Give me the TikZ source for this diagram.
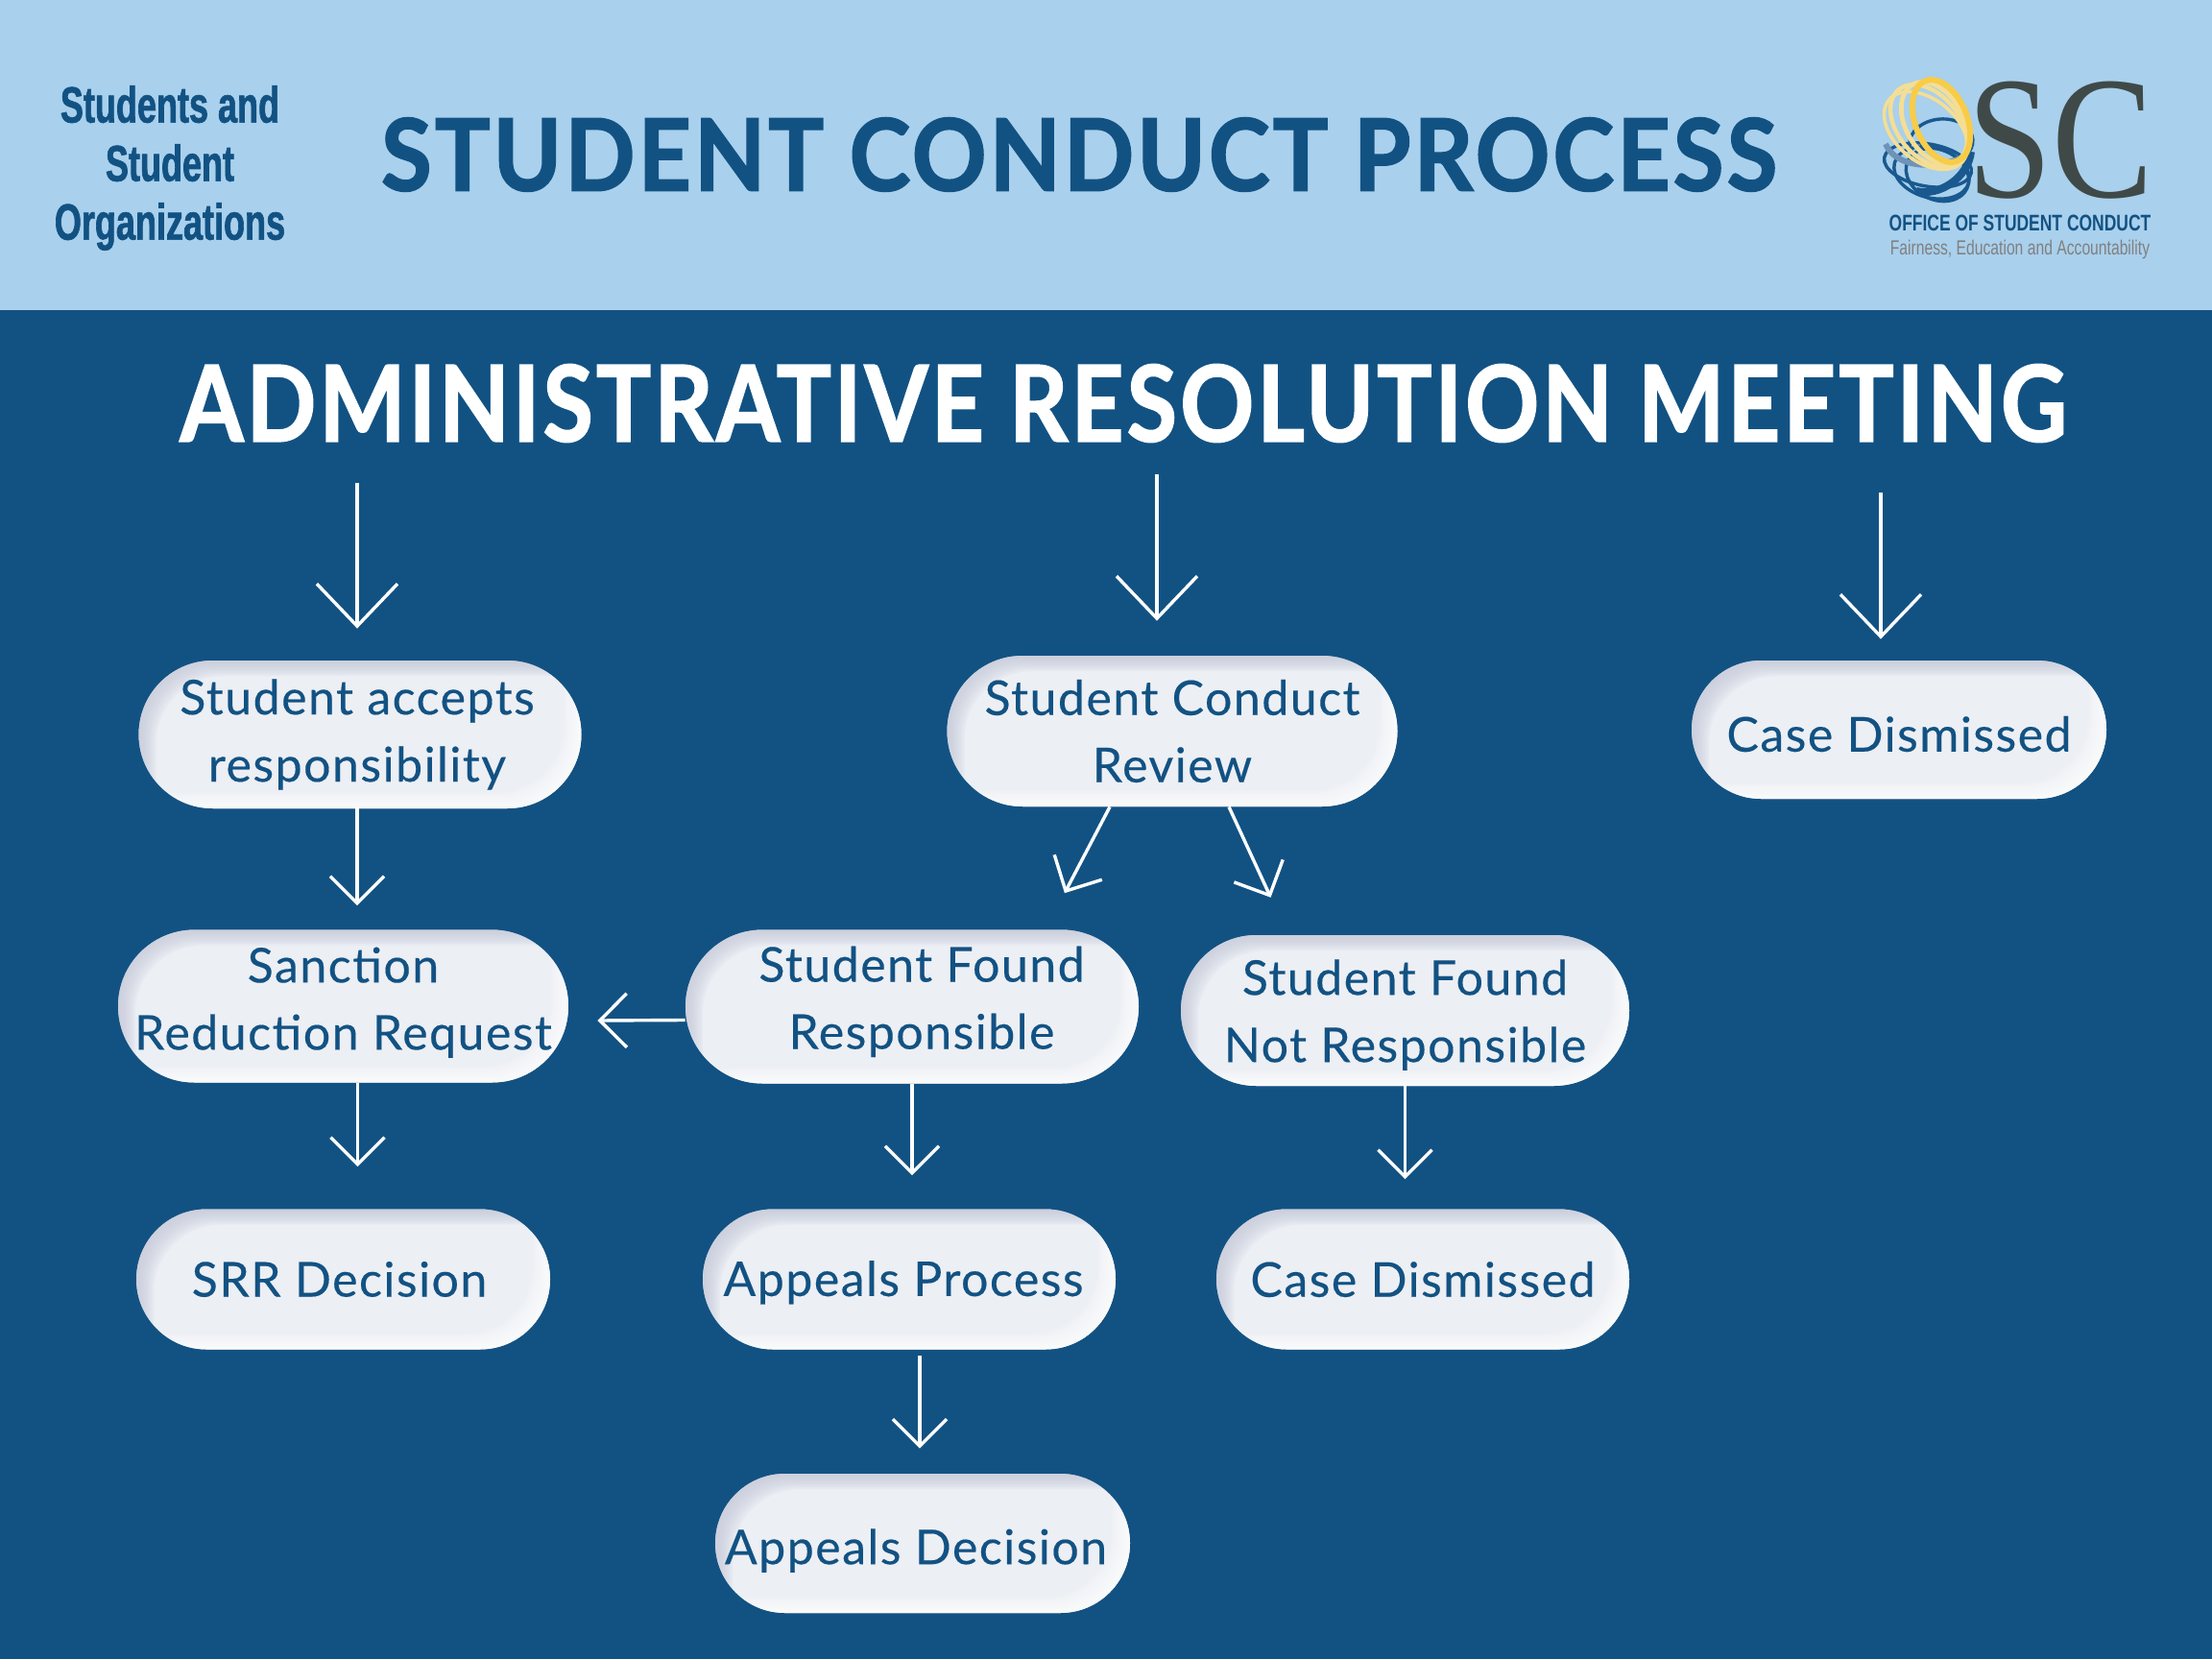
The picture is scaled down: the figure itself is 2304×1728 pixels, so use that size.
\documentclass[tikz,border=0pt]{standalone}
\usepackage{fontspec}
\usetikzlibrary{arrows.meta,positioning,shapes.misc}
\setmainfont[LetterSpace=3,FakeBold=0.3]{Lato}
\newfontfamily\headfont[LetterSpace=3,FakeStretch=0.925,FakeBold=1.6]{Lato}
\newfontfamily\titlefont[LetterSpace=3,FakeStretch=0.865,FakeBold=1.5]{Lato}
\newfontfamily\narrowfont[FakeStretch=0.68,FakeBold=1.2]{Liberation Sans}
\newfontfamily\logoserif[FakeStretch=0.87]{Liberation Serif}
\newfontfamily\logosans[FakeStretch=0.74]{Liberation Sans}
\definecolor{navy}{HTML}{125283}
\definecolor{sky}{HTML}{A9D0EC}
\definecolor{pillface}{HTML}{ECEFF4}
\definecolor{pilledge}{HTML}{C4C8D8}
\definecolor{pilllight}{HTML}{FFFFFF}
\definecolor{logogrey}{HTML}{3F4A48}
\definecolor{ringgold}{HTML}{F8CC46}
\definecolor{ringpale}{HTML}{F4DE94}
\definecolor{ringblue}{HTML}{19598F}
\definecolor{ringsteel}{HTML}{6F93B8}
\begin{document}
\begin{tikzpicture}[x=.5pt,y=-.5pt,
  pill node/.style={rounded rectangle,fill=pillface,font=\fontsize{25}{35}\selectfont,text=navy,align=center,inner sep=0pt,
    path picture={
      \foreach \i in {1,...,9}{
        \fill[pilledge,opacity=.14,even odd rule] (path picture bounding box.north west) rectangle (path picture bounding box.south east)
          [rounded corners=35pt] ([shift={(\i*1pt,-\i*.9pt)}]path picture bounding box.north west) rectangle ([shift={(20pt,-20pt)}]path picture bounding box.south east);
        \fill[pilllight,opacity=.16,even odd rule] (path picture bounding box.north west) rectangle (path picture bounding box.south east)
          [rounded corners=35pt] ([shift={(-20pt,20pt)}]path picture bounding box.north west) rectangle ([shift={(-\i*1pt,\i*.9pt)}]path picture bounding box.south east);
      }}},
  flow/.style={white,line width=1.7pt,-{Straight Barb[length=14pt,width=28pt,line width=1.7pt]}},
  big flow/.style={white,line width=1.7pt,-{Straight Barb[length=22pt,width=42pt,line width=1.7pt]}},
  ring/.style={line width=1.7pt}]
\useasboundingbox (0,0) rectangle (2304,1728);
\fill[navy] (-2,-2) rectangle (2306,1730);
\fill[sky] (-2,-2) rectangle (2306,323);
% header
\node[font=\narrowfont\bfseries\fontsize{26.5}{30.5}\selectfont,text=navy,align=center] (who) at (177,175) {Students and\\Student\\Organizations};
\node[font=\headfont\bfseries\fontsize{52}{60}\selectfont,text=navy] (head) at (1124,161) {STUDENT CONDUCT PROCESS};
\node[font=\titlefont\bfseries\fontsize{55}{60}\selectfont,text=white] (title) at (1170,420) {ADMINISTRATIVE RESOLUTION MEETING};
% logo
\foreach \cx/\cy/\rx/\ry/\rot in {2008/172/46/22/-10,2012/180/40/26/-15,2018/182/34/26/-25,2022/148/33/24/5}
  \draw[ring,ringblue] (\cx,\cy) ellipse [x radius=\rx,y radius=\ry,rotate=\rot];
\draw[ringsteel,line width=3pt] (1964,150) .. controls (1975,176) and (2020,178) .. (2052,160);
\draw[ringblue,line width=4pt] (2053,158) .. controls (2050,185) and (2020,205) .. (1996,199);
\foreach \cx/\cy/\rx/\ry/\rot/\wd in {2006/136/50/32/-40/1.8,2009/131/49/32/-50/2.2,2015/128/46/30/-60/2.4}
  \draw[ringpale,line width=\wd pt] (\cx,\cy) ellipse [x radius=\rx,y radius=\ry,rotate=\rot];
\draw[ringgold,line width=3pt] (2022,126) ellipse [x radius=45,y radius=27,rotate=-68];
\node[font=\logoserif\fontsize{91}{91}\selectfont,text=logogrey,inner sep=0pt] (sc) at (2146,146) {SC};
\node[font=\logosans\bfseries\fontsize{11.8}{12}\selectfont,text=navy,inner sep=0pt] (office) at (2104,232) {OFFICE OF STUDENT CONDUCT};
\node[font=\logosans\fontsize{10.6}{12}\selectfont,text=gray,inner sep=0pt] (motto) at (2104,260) {Fairness, Education and Accountability};
% pills
\node[pill node,minimum width=230.5pt,minimum height=77pt] (accepts) at (375,765) {Student accepts\hspace*{3pt}\\responsibility\hspace*{3pt}};
\node[pill node,minimum width=234.5pt,minimum height=78.5pt] (review) at (1221,761.5) {Student Conduct\\Review};
\node[pill node,minimum width=216pt,minimum height=72pt] (dismissa) at (1978,760) {\rule{0pt}{23pt}Case Dismissed};
\node[pill node,minimum width=234.5pt,minimum height=79.5pt] (sanction) at (357.5,1048) {Sanction\\\makebox[180pt]{Reduction Request}\rule[-8pt]{0pt}{8pt}};
\node[pill node,minimum width=236pt,minimum height=80pt] (found) at (950,1048.5) {\hspace*{10pt}Student Found\\\hspace*{10pt}Responsible\rule[-9.4pt]{0pt}{9.4pt}};
\node[pill node,minimum width=233.5pt,minimum height=78.5pt] (notfound) at (1463.5,1052.5) {\rule{0pt}{23pt}Student Found\\Not Responsible};
\node[pill node,minimum width=215.5pt,minimum height=73pt] (srr) at (357.5,1332.5) {SRR Decision\hspace*{4pt}};
\node[pill node,minimum width=215pt,minimum height=73pt] (appeals) at (947,1332.5) {\rule{0pt}{21.7pt}Appeals Process\hspace*{6pt}};
\node[pill node,minimum width=215pt,minimum height=73pt] (dismissb) at (1482,1332.5) {Case Dismissed};
\node[pill node,minimum width=216pt,minimum height=72.5pt] (decision) at (961,1607.5) {\rule{0pt}{26pt}Appeals Decision\hspace*{7pt}};
% top arrows
\coordinate (topa) at (372,503);
\coordinate (topb) at (1205,494);
\coordinate (topc) at (1959,513);
\draw[big flow,shorten >=16.5pt] (topa) -- (topa |- accepts.north);
\draw[big flow,shorten >=18pt] (topb) -- (topb |- review.north);
\draw[big flow,shorten >=11pt] (topc) -- (topc |- dismissa.north);
% flow arrows
\draw[flow,shorten >=12.5pt] ([xshift=-1.5pt]accepts.south) -- ([xshift=-1.5pt]accepts.south |- sanction.north);
\draw[flow,shorten >=21.4pt] ([xshift=-32.5pt]review.south) -- ([xshift=69.5pt]found.north);
\draw[flow,shorten >=21.4pt] ([xshift=29.5pt]review.south) -- ([xshift=-61pt]notfound.north);
\draw[flow] ([yshift=-7pt]found.west) -- ([xshift=15pt,yshift=-7.5pt]sanction.east);
\draw[flow,shorten >=22pt] ([xshift=7.5pt]sanction.south) -- ([xshift=7.5pt]sanction.south |- srr.north);
\draw[flow,shorten >=17.5pt] (found.south) -- (found.south |- appeals.north);
\draw[flow,shorten >=15.5pt] (notfound.south) -- (notfound.south |- dismissb.north);
\draw[flow,shorten <=3pt,shorten >=13pt] ([xshift=5.5pt]appeals.south) -- ([xshift=5.5pt]appeals.south |- decision.north);
\end{tikzpicture}
\end{document}
